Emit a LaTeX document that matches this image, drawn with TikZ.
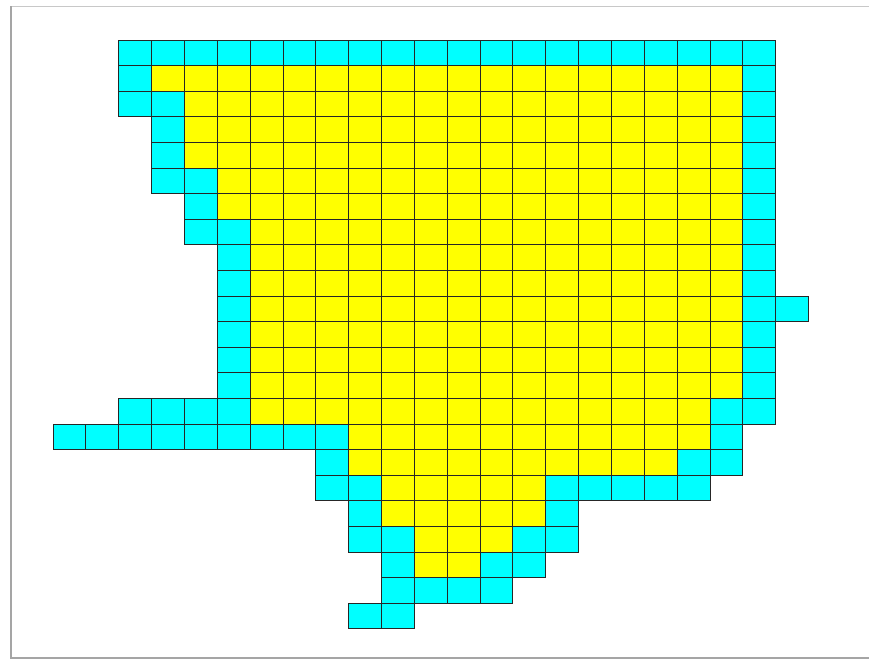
\documentclass[tikz,border=0pt]{standalone}
\usepackage{tikz}
\usetikzlibrary{calc}
\definecolor{cellcyan}  {RGB}{  0, 255, 255}
\definecolor{cellyellow}{RGB}{255, 255,   0}
\definecolor{framegray} {RGB}{200, 200, 200}
\definecolor{shadowgray}{RGB}{165, 165, 165}

\begin{document}
\begin{tikzpicture}[x=0.9855cm,y=-0.768cm,
		cellbox/.style={draw=black!85, line width=0.7pt}]
	\useasboundingbox (-1.613,-1.5625) rectangle (24.84,24.258);
	% picture frame
	\draw[framegray, line width=1.2pt] (24.84,-1.31) -- (-1.28,-1.31);
	\draw[shadowgray, line width=1.6pt] (-1.28,-1.31) -- (-1.28,24.14) -- (24.84,24.14);
	% interior cells: row / first / last column
	\foreach \r/\a/\b in {1/3/20, 2/4/20, 3/4/20, 4/4/20, 5/5/20, 6/5/20,
			7/6/20, 8/6/20, 9/6/20, 10/6/20, 11/6/20, 12/6/20, 13/6/20,
			14/6/19, 15/9/19, 16/9/18, 17/10/14, 18/10/14, 19/11/13, 20/11/12}{
		\foreach \c in {\a,...,\b}{\draw[cellbox, fill=cellyellow] (\c,\r) rectangle ++(1,1);}
	}
	% boundary cells: row / columns
	\foreach \r/\cols in {0/{2,...,21}, 1/{2,21}, 2/{2,3,21}, 3/{3,21}, 4/{3,21},
			5/{3,4,21}, 6/{4,21}, 7/{4,5,21}, 8/{5,21}, 9/{5,21}, 10/{5,21,22},
			11/{5,21}, 12/{5,21}, 13/{5,21}, 14/{2,3,4,5,20,21}, 15/{0,...,8,20},
			16/{8,19,20}, 17/{8,9,15,16,17,18,19}, 18/{9,15}, 19/{9,10,14,15},
			20/{10,13,14}, 21/{10,11,12,13}, 22/{9,10}}{
		\foreach \c in \cols {\draw[cellbox, fill=cellcyan] (\c,\r) rectangle ++(1,1);}
	}
\end{tikzpicture}
\end{document}
